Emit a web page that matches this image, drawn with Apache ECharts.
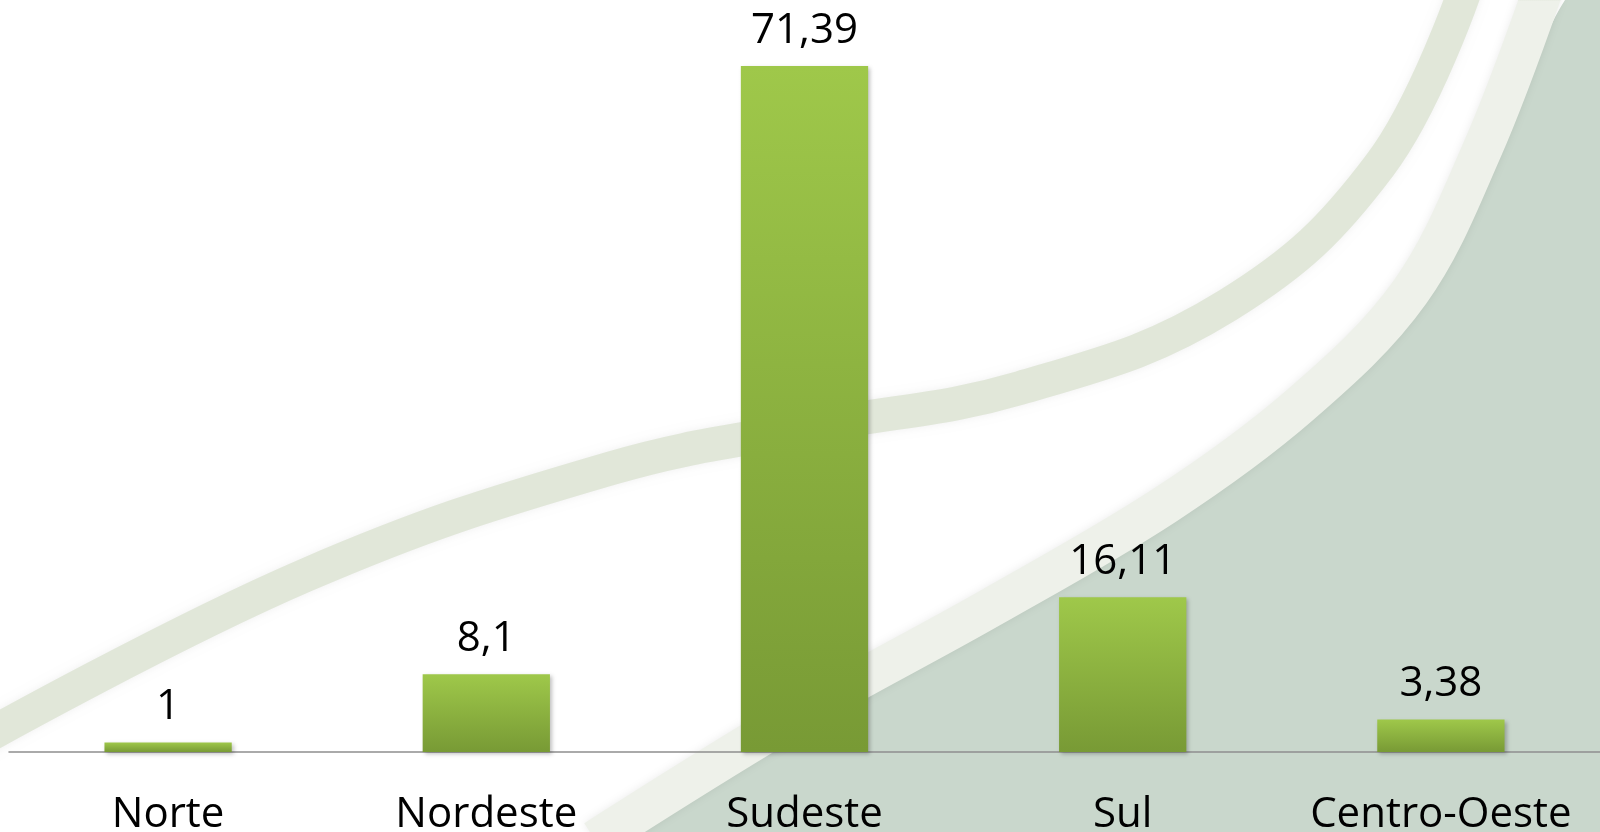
<!DOCTYPE html>
<html>
<head>
<meta charset="utf-8">
<script src="https://cdn.jsdelivr.net/npm/echarts@6/dist/echarts.min.js"></script>
<style>
  html, body { margin: 0; padding: 0; background: #fff; }
  #chart { width: 1600px; height: 832px; }
</style>
</head>
<body>
<div id="chart"></div>
<script>
// dados por região
const regioes = ['Norte', 'Nordeste', 'Sudeste', 'Sul', 'Centro-Oeste']
const valores = [1, 8.1, 71.39, 16.11, 3.38]

const chart = echarts.init(document.getElementById('chart'))

// fundo decorativo (faixas verdes curvas)
const fundo = [
  {
    type: 'polygon', z: -100, silent: true,
    shape: { smooth: 0.35, points: [[1565, 0], [1600, 0], [1600, 832], [625, 832], [810, 728], [1010, 618], [1180, 515], [1320, 412], [1430, 295], [1503, 150]] },
    style: { fill: '#c9d7cc' }
  },
  {
    type: 'polyline', z: -99, silent: true,
    shape: { smooth: 0.35, points: [[1543, -10], [1482, 150], [1410, 292], [1300, 405], [1165, 505], [990, 608], [795, 716], [595, 840]] },
    style: {
      stroke: new echarts.graphic.LinearGradient(0, 0, 0, 1, [
        { offset: 0, color: '#e5eadf' },
        { offset: 1, color: '#eef1ea' }
      ], true),
      lineWidth: 40, fill: null,
      shadowColor: 'rgba(0,0,0,0.08)', shadowBlur: 8
    }
  },
  {
    type: 'polyline', z: -98, silent: true,
    shape: { smooth: 0.4, points: [[1465, -10], [1380, 165], [1228, 305], [1020, 388], [816, 426], [612, 468], [306, 575], [-20, 740]] },
    style: { stroke: '#e1e7d9', lineWidth: 34, fill: null, shadowColor: 'rgba(0,0,0,0.06)', shadowBlur: 8 }
  }
]

const option = {
  backgroundColor: '#ffffff',
  graphic: { elements: fundo },
  grid: { left: 9, right: 0, top: 66, bottom: 80, outerBoundsMode: 'none', containLabel: false },
  xAxis: {
    type: 'category',
    data: regioes,
    axisLine: { lineStyle: { color: '#8f8f8f', width: 1.5 } },
    axisTick: { show: false },
    axisLabel: { interval: 0, color: '#000', fontSize: 42, fontFamily: 'Open Sans', margin: 42 }
  },
  yAxis: {
    type: 'value',
    min: 0,
    max: 'dataMax',
    show: false,
    splitLine: { show: false }
  },
  series: [
    {
      type: 'bar',
      data: valores,
      barCategoryGap: '60%',
      itemStyle: {
        color: new echarts.graphic.LinearGradient(0, 0, 0, 1, [
          { offset: 0, color: '#9fc84a' },
          { offset: 1, color: '#789a35' }
        ]),
        shadowColor: 'rgba(0,0,0,0.25)',
        shadowBlur: 4,
        shadowOffsetX: 2,
        shadowOffsetY: 2
      },
      label: {
        show: true,
        position: 'top',
        distance: 14,
        color: '#000',
        fontSize: 42,
        fontFamily: 'Open Sans',
        formatter: p => String(p.value).replace('.', ',')
      }
    }
  ]
}

chart.setOption(option)
</script>
</body>
</html>
